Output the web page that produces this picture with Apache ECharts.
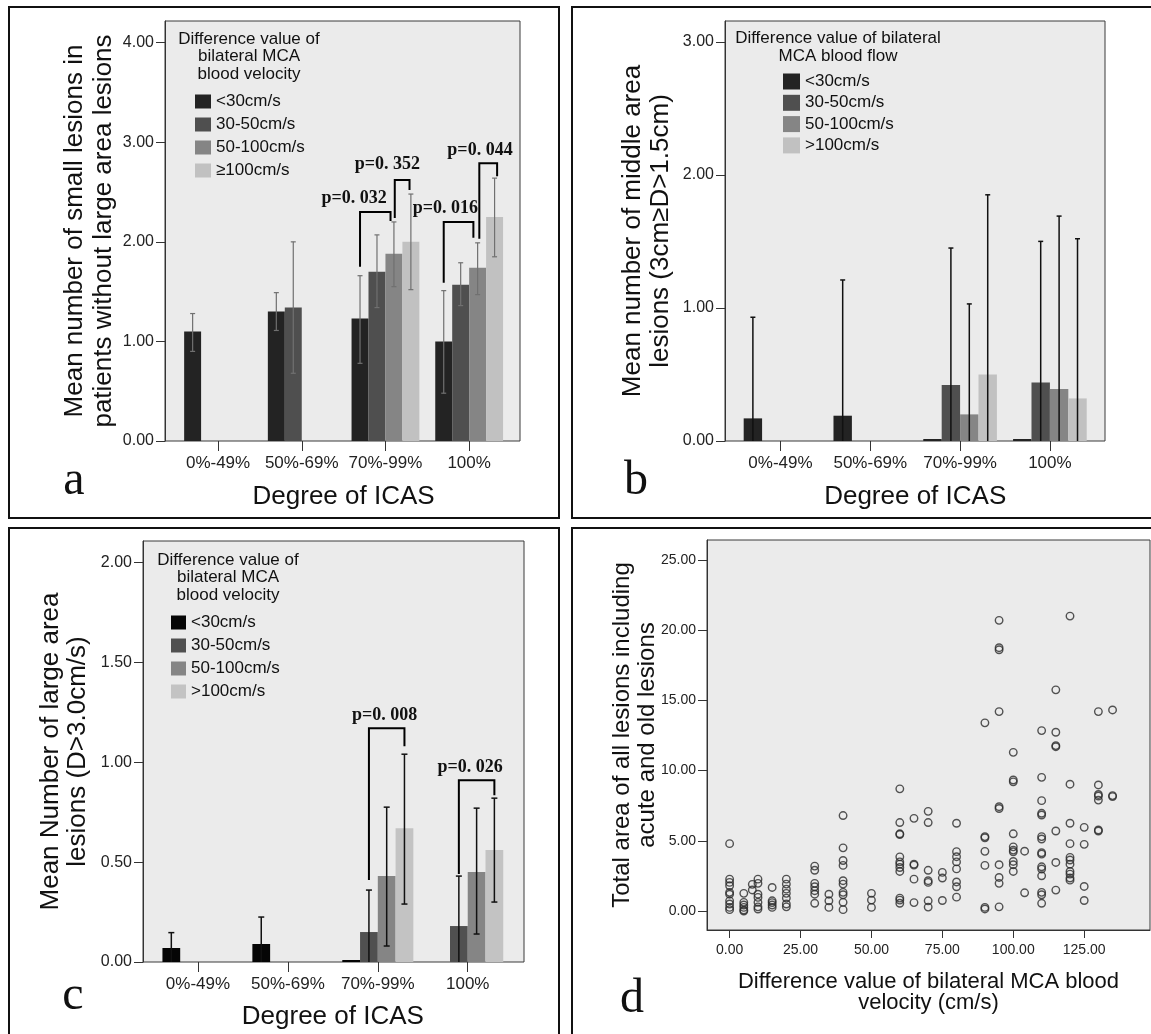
<!DOCTYPE html>
<html>
<head>
<meta charset="utf-8">
<script src="https://cdn.jsdelivr.net/npm/echarts@6/dist/echarts.min.js"></script>
<style>
html, body { margin: 0; padding: 0; background: #fff; }
#chart { width: 1151px; height: 1034px; }
</style>
</head>
<body>
<div id="chart"></div>
<script>
var categories = ['0%-49%', '50%-69%', '70%-99%', '100%'];

// panel a - small lesions (mean, 95% CI)
var aNames = ['<30cm/s', '30-50cm/s', '50-100cm/s', '≥100cm/s'];
var aMean = [
    [1.10, 1.30, 1.23, 1.00],
    ['-', 1.34, 1.70, 1.57],
    ['-', '-', 1.88, 1.74],
    ['-', '-', 2.00, 2.25]
];
var aLow = [
    [0.90, 1.11, 0.78, 0.48],
    ['-', 0.68, 1.34, 1.36],
    ['-', '-', 1.55, 1.47],
    ['-', '-', 1.52, 1.85]
];
var aHigh = [
    [1.28, 1.49, 1.66, 1.51],
    ['-', 2.00, 2.07, 1.79],
    ['-', '-', 2.20, 1.99],
    ['-', '-', 2.48, 2.64]
];
// [category, left slot, left end, top, right slot, right end, label slot, label value]
var aBrackets = [
    [2, 0, 1.75, 2.30, 1.8, 2.21, -0.35, 2.44],
    [2, 2.05, 2.24, 2.62, 2.92, 2.52, 1.62, 2.78],
    [3, 0, 1.59, 2.20, 1.75, 2.04, 0.1, 2.34],
    [3, 2.1, 2.03, 2.79, 3.15, 2.66, 2.14, 2.92]
];
var aPText = ['p=0. 032', 'p=0. 352', 'p=0. 016', 'p=0. 044'];

// panel b - middle area lesions
var bNames = ['<30cm/s', '30-50cm/s', '50-100cm/s', '>100cm/s'];
var bMean = [
    [0.17, 0.19, 0, 0],
    ['-', '-', 0.42, 0.44],
    ['-', '-', 0.20, 0.39],
    ['-', '-', 0.50, 0.32]
];
var bHigh = [
    [0.93, 1.21, '-', '-'],
    ['-', '-', 1.45, 1.50],
    ['-', '-', 1.03, 1.69],
    ['-', '-', 1.85, 1.52]
];

// panel c - large area lesions
var cNames = ['<30cm/s', '30-50cm/s', '50-100cm/s', '>100cm/s'];
var cMean = [
    [0.07, 0.09, 0, '-'],
    ['-', '-', 0.15, 0.18],
    ['-', '-', 0.43, 0.45],
    ['-', '-', 0.67, 0.56]
];
var cLow = [
    [0, 0, '-', '-'],
    ['-', '-', 0, 0],
    ['-', '-', 0.08, 0.14],
    ['-', '-', 0.29, 0.30]
];
var cHigh = [
    [0.147, 0.225, '-', '-'],
    ['-', '-', 0.36, 0.43],
    ['-', '-', 0.775, 0.77],
    ['-', '-', 1.04, 0.82]
];
var cBrackets = [
    [2, 1, 0.41, 1.17, 3, 1.08, 1.88, 1.235],
    [3, 1, 0.44, 0.91, 3, 0.835, 1.64, 0.973]
];
var cPText = ['p=0. 008', 'p=0. 026'];

// panel d - scatter, velocity difference vs total lesion area
var dVelocity = [0, 5, 8, 10, 15, 20, 30, 35, 40, 50, 60, 65, 70, 75, 80, 90, 95, 100, 104, 110, 115, 120, 125, 130, 135];
var dArea = [
    [4.8, 2.27, 2.04, 1.8, 1.33, 1.2, 0.73, 0.5, 0.26, 0.1],
    [1.26, 0.62, 0.43, 0.26, 0.07, 0.0],
    [1.9, 1.5],
    [2.27, 1.97, 1.2, 0.97, 0.62, 0.3, 0.14],
    [1.68, 0.73, 0.6, 0.43, 0.26],
    [2.27, 1.92, 1.56, 1.26, 0.92, 0.5, 0.3],
    [3.2, 2.9, 1.97, 1.73, 1.45, 1.2, 0.55],
    [1.2, 0.73, 0.26],
    [6.8, 4.5, 3.6, 3.25, 2.16, 1.92, 1.33, 1.16, 0.62, 0.1],
    [1.26, 0.78, 0.26],
    [8.7, 6.3, 5.5, 5.45, 3.86, 3.5, 3.34, 3.1, 2.82, 0.92, 0.78, 0.55],
    [6.6, 3.34, 3.27, 2.27, 0.6],
    [7.1, 6.3, 2.9, 2.16, 2.04, 0.73, 0.28],
    [2.75, 2.35, 0.75],
    [6.25, 4.23, 3.87, 3.5, 3.0, 2.07, 1.73, 0.99],
    [13.4, 5.3, 5.22, 4.25, 3.25, 0.26, 0.15],
    [20.7, 18.75, 18.6, 14.2, 7.43, 7.3, 3.3, 2.39, 1.97, 0.3],
    [11.3, 9.33, 9.2, 5.5, 4.57, 4.34, 4.22, 3.53, 3.3, 2.82],
    [4.26, 1.3],
    [12.85, 9.52, 7.86, 6.96, 6.84, 5.3, 5.13, 4.15, 4.05, 3.15, 2.99, 2.51, 1.33, 1.16, 0.55],
    [15.75, 12.73, 11.78, 11.7, 5.7, 3.46, 1.49],
    [21.0, 9.03, 6.25, 4.8, 3.82, 3.63, 3.34, 2.82, 2.63, 2.35, 2.2],
    [5.96, 4.75, 1.75, 0.75],
    [14.2, 8.98, 8.3, 8.19, 7.9, 5.77, 5.7],
    [14.32, 8.22, 8.15]
];

var greys = ['#232323', '#4f4f4f', '#858585', '#c1c1c1'];
var greysC = ['#050505', '#505050', '#858585', '#c3c3c3'];

var SANS = '"Liberation Sans", Arial, sans-serif';
var SERIF = '"Liberation Serif", "Times New Roman", serif';

var dom = document.getElementById('chart');
var myChart = echarts.init(dom, null, { renderer: 'canvas' });

function fmt2(v) { return Number(v).toFixed(2); }

function frameGrid(l, t, w, h) {
    return { left: l, top: t, width: w, height: h, show: true, backgroundColor: '#ebebeb',
        borderColor: '#3a3a3a', borderWidth: 1, containLabel: false, outerBoundsMode: 'none' };
}
function plainGrid(l, t, w, h) {
    return { left: l, top: t, width: w, height: h, containLabel: false, outerBoundsMode: 'none' };
}

function hiddenAxis(gi, min, max) {
    return { type: 'value', gridIndex: gi, min: min, max: max, show: false };
}

function valueY(gi, min, max, ticks, name, gap, nameSize, lineH, labelSize) {
    return {
        type: 'value', gridIndex: gi, min: min, max: max,
        axisLine: { show: true, onZero: false, lineStyle: { color: '#333', width: 1 } },
        axisTick: { show: true, length: 9, customValues: ticks, lineStyle: { color: '#333' } },
        axisLabel: { customValues: ticks, margin: 11, fontSize: labelSize, color: '#222',
            fontFamily: SANS, formatter: fmt2 },
        splitLine: { show: false },
        name: name, nameLocation: 'middle', nameRotate: 90, nameGap: gap, nameMoveOverlap: false,
        nameTextStyle: { fontSize: nameSize, lineHeight: lineH, fontFamily: SANS, color: '#111' }
    };
}

function catX(gi, gap) {
    return {
        type: 'category', gridIndex: gi, data: categories,
        axisLine: { show: false },
        axisTick: { show: true, alignWithLabel: true, length: 10, lineStyle: { color: '#333' } },
        axisLabel: { interval: 0, margin: 14, fontSize: 17, color: '#222', fontFamily: SANS },
        name: 'Degree of ICAS', nameLocation: 'middle', nameGap: gap, nameMoveOverlap: false,
        nameTextStyle: { fontSize: 26, lineHeight: 26, fontFamily: SANS, color: '#111' }
    };
}

function barSeries(names, colors, mean, xi, yi, gapPct, minH) {
    return names.map(function (n, s) {
        return {
            type: 'bar', name: n, xAxisIndex: xi, yAxisIndex: yi,
            data: mean[s], barGap: '0%', barCategoryGap: gapPct + '%',
            barMinHeight: (s === 0 ? minH : 0),
            itemStyle: { color: colors[s] }, silent: true, z: 2
        };
    });
}

function errorData(mean, low, high) {
    var out = [];
    for (var s = 0; s < high.length; s++) {
        for (var c = 0; c < categories.length; c++) {
            if (high[s][c] === '-') continue;
            out.push([c, s, low ? low[s][c] : 0, high[s][c]]);
        }
    }
    return out;
}

function errorSeries(data, xi, yi, fill, color, width, cap) {
    return {
        type: 'custom', xAxisIndex: xi, yAxisIndex: yi, silent: true, z: 5, clip: false,
        encode: { x: 0, y: 3 },
        data: data,
        renderItem: function (params, api) {
            var cat = api.value(0), slot = api.value(1), lo = api.value(2), hi = api.value(3);
            var band = api.size([1, 0])[0];
            var barW = band * fill / 4;
            var x = api.coord([cat, 0])[0] + (slot - 1.5) * barW;
            var yHi = api.coord([cat, hi])[1];
            var yLo = api.coord([cat, lo])[1];
            var st = { stroke: color, lineWidth: width, fill: null };
            var kids = [
                { type: 'line', shape: { x1: x, y1: yHi, x2: x, y2: yLo }, style: st },
                { type: 'line', shape: { x1: x - cap, y1: yHi, x2: x + cap, y2: yHi }, style: st }
            ];
            if (lo > 0) {
                kids.push({ type: 'line', shape: { x1: x - cap, y1: yLo, x2: x + cap, y2: yLo }, style: st });
            }
            return { type: 'group', children: kids };
        }
    };
}

function bracketSeries(data, texts, xi, yi, fill) {
    return {
        type: 'custom', xAxisIndex: xi, yAxisIndex: yi, silent: true, z: 6, clip: false,
        encode: { x: 0, y: 3 },
        data: data,
        renderItem: function (params, api) {
            var cat = api.value(0);
            var band = api.size([1, 0])[0];
            var barW = band * fill / 4;
            var cx = api.coord([cat, 0])[0];
            function sx(s) { return cx + (s - 1.5) * barW; }
            function vy(v) { return api.coord([cat, v])[1]; }
            var xL = sx(api.value(1)), xR = sx(api.value(4));
            var yL = vy(api.value(2)), yT = vy(api.value(3)), yR = vy(api.value(5));
            return {
                type: 'group', children: [
                    { type: 'polyline', shape: { points: [[xL, yL], [xL, yT], [xR, yT], [xR, yR]] },
                        style: { stroke: '#000', lineWidth: 2, fill: null } },
                    { type: 'text', style: { text: texts[params.dataIndex], x: sx(api.value(6)), y: vy(api.value(7)),
                        align: 'center', verticalAlign: 'middle', textAlign: 'center', textVerticalAlign: 'middle',
                        font: 'bold 18px ' + SERIF, fill: '#111' } }
                ]
            };
        }
    };
}

var dData = [];
dVelocity.forEach(function (v, i) {
    dArea[i].forEach(function (a) { dData.push([v, a]); });
});

function legendCfg(left, top, names, colors, iw, ih, gap) {
    return {
        left: left, top: top, orient: 'vertical', padding: 0, icon: 'rect',
        itemWidth: iw, itemHeight: ih, itemGap: gap, selectedMode: false,
        data: names.map(function (n, i) { return { name: n, itemStyle: { color: colors[i] } }; }),
        textStyle: { fontSize: 17, lineHeight: ih, fontFamily: SANS, color: '#111' }
    };
}

function textEl(x, y, txt, font, lh) {
    return { type: 'text', x: x, y: y, silent: true,
        style: { text: txt, font: font, fill: '#111', align: 'center', verticalAlign: 'middle',
            textAlign: 'center', textVerticalAlign: 'middle', lineHeight: lh } };
}
function borderEl(x, y, w, h) {
    return { type: 'rect', silent: true, shape: { x: x, y: y, width: w, height: h },
        style: { fill: null, stroke: '#111', lineWidth: 2 } };
}

var yTitleA = 'Mean number of small lesions in\npatients without large area lesions';
var yTitleB = 'Mean number of middle area\nlesions (3cm≥D>1.5cm)';
var yTitleC = 'Mean Number of large area\nlesions (D>3.0cm/s)';
var yTitleD = 'Total area of all lesions including\nacute and old lesions';
var xTitleD = 'Difference value of bilateral MCA blood\nvelocity (cm/s)';

option = {
    animation: false,
    backgroundColor: '#fff',
    grid: [
        frameGrid(165, 21, 355, 420),
        plainGrid(176.2, 21, 334.8, 420),
        frameGrid(725, 21, 380, 420),
        plainGrid(735.6, 21, 359.2, 420),
        frameGrid(143, 541, 381, 421),
        plainGrid(153, 541, 359.7, 421),
        frameGrid(707, 540, 443, 390)
    ],
    xAxis: [
        hiddenAxis(0, 0, 1),
        catX(1, 43),
        hiddenAxis(2, 0, 1),
        catX(3, 43),
        hiddenAxis(4, 0, 1),
        catX(5, 42),
        {
            type: 'value', gridIndex: 6, min: -7.97, max: 148.2,
            axisLine: { show: true, onZero: false, lineStyle: { color: '#333' } },
            axisTick: { show: true, length: 8, customValues: [0, 25, 50, 75, 100, 125], lineStyle: { color: '#333' } },
            axisLabel: { customValues: [0, 25, 50, 75, 100, 125], margin: 13, fontSize: 14, color: '#222',
                fontFamily: SANS, formatter: fmt2 },
            splitLine: { show: false },
            name: xTitleD, nameLocation: 'middle', nameGap: 41, nameMoveOverlap: false,
            nameTextStyle: { fontSize: 22, lineHeight: 21, fontFamily: SANS, color: '#111' }
        }
    ],
    yAxis: [
        valueY(0, 0, 4.218, [0, 1, 2, 3, 4], yTitleA, 47, 26, 28.6, 16),
        hiddenAxis(1, 0, 4.218),
        valueY(2, 0, 3.156, [0, 1, 2, 3], yTitleB, 50, 26, 28.4, 16),
        hiddenAxis(3, 0, 3.156),
        valueY(4, 0, 2.107, [0, 0.5, 1, 1.5, 2], yTitleC, 52, 26, 27, 16),
        hiddenAxis(5, 0, 2.107),
        valueY(6, -1.35, 26.42, [0, 5, 10, 15, 20, 25], yTitleD, 47, 24, 25, 14)
    ],
    legend: [
        legendCfg(195, 93, aNames, greys, 16, 14, 6),
        legendCfg(783, 73, bNames, greys, 17, 16, 4.3),
        legendCfg(171, 614, cNames, greysC, 15, 14, 6)
    ],
    graphic: [
        borderEl(9, 7, 550, 511),
        borderEl(572, 7, 590, 511),
        borderEl(9, 528, 550, 515),
        borderEl(572, 528, 590, 515),
        textEl(74, 481, 'a', '48px ' + SERIF, 48),
        textEl(636, 481, 'b', '48px ' + SERIF, 48),
        textEl(73, 996, 'c', '48px ' + SERIF, 48),
        textEl(632, 999, 'd', '48px ' + SERIF, 48),
        textEl(249, 56.7, 'Difference value of\nbilateral MCA\nblood velocity', '17px ' + SANS, 17.4),
        textEl(838, 47.2, 'Difference value of bilateral\nMCA blood flow', '17px ' + SANS, 17.7),
        textEl(228, 577.7, 'Difference value of\nbilateral MCA\nblood velocity', '17px ' + SANS, 17.5)
    ],
    series: []
        .concat(barSeries(aNames, greys, aMean, 1, 1, 19, 0))
        .concat([errorSeries(errorData(aMean, aLow, aHigh), 1, 1, 0.81, '#707070', 1.2, 2.5)])
        .concat([bracketSeries(aBrackets, aPText, 1, 1, 0.81)])
        .concat(barSeries(bNames, greys, bMean, 3, 3, 18, 2))
        .concat([errorSeries(errorData(bMean, null, bHigh), 3, 3, 0.82, '#111', 1.5, 2.5)])
        .concat(barSeries(cNames, greysC, cMean, 5, 5, 21, 2))
        .concat([errorSeries(errorData(cMean, cLow, cHigh), 5, 5, 0.79, '#111', 1.5, 3)])
        .concat([bracketSeries(cBrackets, cPText, 5, 5, 0.79)])
        .concat([{
            type: 'scatter', xAxisIndex: 6, yAxisIndex: 6, data: dData,
            symbol: 'circle', symbolSize: 7.5, silent: true,
            itemStyle: { color: 'rgba(0,0,0,0)', borderColor: '#2b2b2b', borderWidth: 1.4 }
        }])
};

myChart.setOption(option);
window.addEventListener('resize', myChart.resize);
</script>
</body>
</html>
